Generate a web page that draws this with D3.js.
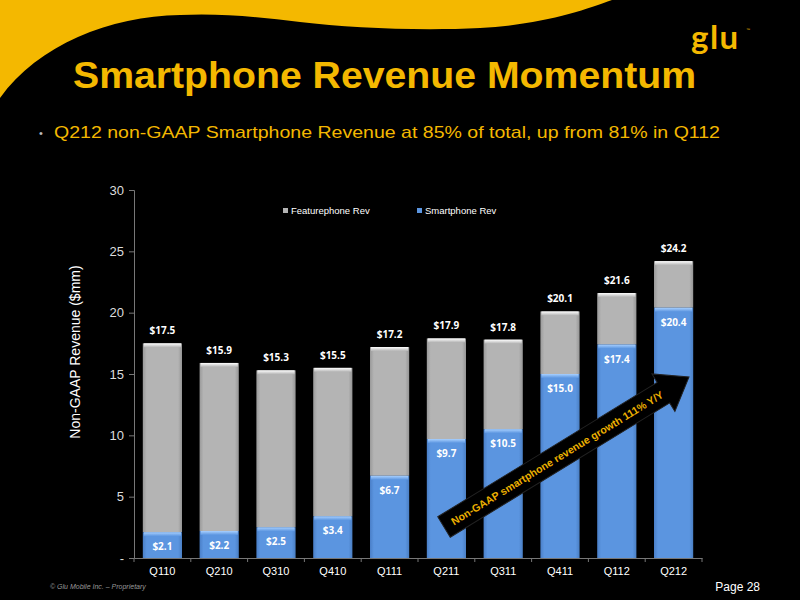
<!DOCTYPE html>
<html><head><meta charset="utf-8">
<script src="https://cdn.jsdelivr.net/npm/d3@7"></script>
<style>html,body{margin:0;padding:0;background:#000;}svg{display:block;}</style>
</head><body>
<svg id="chart" width="800" height="600"></svg>
<script>
const categories = ["Q110","Q210","Q310","Q410","Q111","Q211","Q311","Q411","Q112","Q212"];
const smartphoneRev = [2.1,2.2,2.5,3.4,6.7,9.7,10.5,15.0,17.4,20.4];
const totalRev = [17.5,15.9,15.3,15.5,17.2,17.9,17.8,20.1,21.6,24.2];
const yTicks = [0,5,10,15,20,25,30];
const yTickLabels = ["-","5","10","15","20","25","30"];

const featurephoneRev = totalRev.map((t,i)=> +(t - smartphoneRev[i]).toFixed(1));

const svg = d3.select("#chart");
svg.append("rect").attr("width",800).attr("height",600).attr("fill","#000");

const YEL = "#F4B800";
// yellow wave
svg.append("path")
  .attr("d","M0,0 L612,0 C585,10 540,25 480,28 C420,31 350,28 300,22 C260,17 220,13 180,15 C110,16 38,45 0,98 Z")
  .attr("fill",YEL);

// logo
const logo = svg.append("g");
logo.append("text").attr("x",691).attr("y",49).attr("font-family","Lato,'Open Sans',sans-serif")
  .attr("font-size",33).attr("font-weight","bold").attr("fill",YEL).attr("letter-spacing","1.5").text("glu");
logo.append("circle").attr("cx",698).attr("cy",40).attr("r",1.4).attr("fill",YEL);
logo.append("circle").attr("cx",703.5).attr("cy",40).attr("r",1.4).attr("fill",YEL);
logo.append("text").attr("x",746).attr("y",31).attr("font-size",4).attr("fill",YEL).attr("font-family","Arial").text("™");

// title
svg.append("text").attr("x",73).attr("y",88)
  .attr("font-family","'Liberation Sans',Arial,sans-serif").attr("font-weight","bold")
  .attr("font-size",37).attr("fill",YEL)
  .attr("textLength",623).attr("lengthAdjust","spacingAndGlyphs")
  .text("Smartphone Revenue Momentum");

// subtitle
svg.append("text").attr("x",39).attr("y",137).attr("font-family","'Liberation Sans',Arial,sans-serif")
  .attr("font-size",11).attr("fill","#bbb").text("•");
svg.append("text").attr("x",54).attr("y",138)
  .attr("font-family","'Liberation Sans',Arial,sans-serif")
  .attr("font-size",17).attr("fill",YEL)
  .attr("textLength",666).attr("lengthAdjust","spacingAndGlyphs")
  .text("Q212 non-GAAP Smartphone Revenue at 85% of total, up from 81% in Q112");

// chart area
const pLeft = 134, pRight = 702, pTop = 190, pBottom = 558;
const x = d3.scaleBand().domain(categories).range([pLeft,pRight]).paddingInner(0.31).paddingOuter(0.155);
const y = d3.scaleLinear().domain([0,30]).range([pBottom,pTop]);

const defs = svg.append("defs");
const gGray = defs.append("linearGradient").attr("id","gGray").attr("x1",0).attr("x2",1).attr("y1",0).attr("y2",0);
gGray.append("stop").attr("offset","0").attr("stop-color","#9a9a9a");
gGray.append("stop").attr("offset","0.1").attr("stop-color","#b4b4b4");
gGray.append("stop").attr("offset","0.9").attr("stop-color","#b4b4b4");
gGray.append("stop").attr("offset","1").attr("stop-color","#959595");
const gBlue = defs.append("linearGradient").attr("id","gBlue").attr("x1",0).attr("x2",1).attr("y1",0).attr("y2",0);
gBlue.append("stop").attr("offset","0").attr("stop-color","#4a7fc8");
gBlue.append("stop").attr("offset","0.1").attr("stop-color","#5b95e0");
gBlue.append("stop").attr("offset","0.9").attr("stop-color","#5b95e0");
gBlue.append("stop").attr("offset","1").attr("stop-color","#4a7fc4");
const gTopW = defs.append("linearGradient").attr("id","gTopW").attr("x1",0).attr("x2",0).attr("y1",0).attr("y2",1);
gTopW.append("stop").attr("offset","0").attr("stop-color","#ffffff");
gTopW.append("stop").attr("offset","1").attr("stop-color","#b4b4b4");
const gTopB = defs.append("linearGradient").attr("id","gTopB").attr("x1",0).attr("x2",0).attr("y1",0).attr("y2",1);
gTopB.append("stop").attr("offset","0").attr("stop-color","#a8d0ff");
gTopB.append("stop").attr("offset","1").attr("stop-color","#5b95e0");

// y axis
const yAxis = d3.axisLeft(y).tickValues(yTicks).tickSize(5).tickFormat((d,i)=>yTickLabels[i]);
const ya = svg.append("g").attr("transform",`translate(${pLeft},0)`).call(yAxis);
ya.select(".domain").attr("stroke","#777");
ya.selectAll(".tick line").attr("stroke","#777");
ya.selectAll(".tick text").attr("fill","#ddd").attr("font-size",13).attr("x",-10)
  .attr("font-family","'Liberation Sans',Arial,sans-serif");

// x axis
const xa = svg.append("g").attr("transform",`translate(0,${pBottom})`)
  .call(d3.axisBottom(x).tickSize(0).tickPadding(9));
xa.select(".domain").attr("stroke","#777");
xa.selectAll(".tick text").attr("fill","#fff").attr("font-size",11)
  .attr("font-family","'Liberation Sans',Arial,sans-serif");
const step = x.step();
const bounds = d3.range(categories.length+1).map(i=>pLeft + i*step);
svg.append("g").selectAll("line").data(bounds).join("line")
  .attr("x1",d=>d).attr("x2",d=>d).attr("y1",pBottom).attr("y2",pBottom+4).attr("stroke","#777");

// y label
svg.append("text").attr("transform","translate(80,352) rotate(-90)")
  .attr("text-anchor","middle").attr("font-family","'Liberation Sans',Arial,sans-serif")
  .attr("font-size",14).attr("fill","#fff").text("Non-GAAP Revenue ($mm)");

// legend
const lg = svg.append("g").attr("font-family","'Liberation Sans',Arial,sans-serif").attr("font-size",9.5).attr("fill","#fff");
lg.append("rect").attr("x",283).attr("y",208).attr("width",5).attr("height",5).attr("fill","#b4b4b4");
lg.append("text").attr("x",291).attr("y",214).text("Featurephone Rev");
lg.append("rect").attr("x",417).attr("y",208).attr("width",5).attr("height",5).attr("fill","#5b95e0");
lg.append("text").attr("x",425).attr("y",214).text("Smartphone Rev");

// bars
const bars = svg.append("g");
categories.forEach((c,i)=>{
  const bx = x(c), bw = x.bandwidth();
  bars.append("rect").attr("x",bx).attr("y",y(totalRev[i])).attr("width",bw)
    .attr("height",y(smartphoneRev[i])-y(totalRev[i])).attr("fill","url(#gGray)");
  bars.append("rect").attr("x",bx+1).attr("y",y(totalRev[i])).attr("width",bw-2).attr("height",4).attr("fill","url(#gTopW)");
  bars.append("rect").attr("x",bx).attr("y",y(smartphoneRev[i])).attr("width",bw)
    .attr("height",y(0)-y(smartphoneRev[i])).attr("fill","url(#gBlue)");
  bars.append("rect").attr("x",bx+1).attr("y",y(smartphoneRev[i])).attr("width",bw-2).attr("height",4).attr("fill","url(#gTopB)");
});

// labels
const lf = "'Open Sans','DejaVu Sans',sans-serif";
svg.append("g").selectAll("text").data(totalRev).join("text")
  .attr("x",(d,i)=>x(categories[i])+x.bandwidth()/2).attr("y",d=>y(d)-9)
  .attr("text-anchor","middle").attr("font-family",lf).attr("font-weight","bold")
  .attr("font-size",10).attr("fill","#fff").text(d=>"$"+d.toFixed(1));
svg.append("g").selectAll("text").data(smartphoneRev).join("text")
  .attr("x",(d,i)=>x(categories[i])+x.bandwidth()/2).attr("y",d=>y(d)+18)
  .attr("text-anchor","middle").attr("font-family",lf).attr("font-weight","bold")
  .attr("font-size",10).attr("fill","#fff").text(d=>"$"+d.toFixed(1));

// arrow
const ax0 = 444, ay0 = 527, ax1 = 689, ay1 = 377;
const ang = Math.atan2(ay1-ay0, ax1-ax0)*180/Math.PI;
const len = Math.hypot(ax1-ax0, ay1-ay0);
const ag = svg.append("g").attr("transform",`translate(${ax0},${ay0}) rotate(${ang})`);
const sw = 12, hw = 22, hl = 30;
ag.append("path")
  .attr("d",`M0,${-sw} L${len-hl},${-sw} L${len-hl},${-hw} L${len},0 L${len-hl},${hw} L${len-hl},${sw} L0,${sw} Z`)
  .attr("fill","#000").attr("stroke","#222").attr("stroke-width",1);
ag.append("text").attr("x",(len-hl)/2+4).attr("y",4).attr("text-anchor","middle")
  .attr("font-family","'Liberation Sans',Arial,sans-serif").attr("font-weight","bold")
  .attr("font-size",10.5).attr("fill","#EDB000")
  .text("Non-GAAP smartphone revenue growth 111% Y/Y");

// footer
svg.append("text").attr("x",50).attr("y",589).attr("font-family","'Liberation Sans',Arial,sans-serif")
  .attr("font-style","italic").attr("font-size",7).attr("fill","#999").text("© Glu Mobile Inc. – Proprietary");
svg.append("text").attr("x",760).attr("y",591).attr("text-anchor","end").attr("font-family","'Liberation Sans',Arial,sans-serif")
  .attr("font-size",12).attr("fill","#fff").text("Page 28");
</script>
</body></html>
